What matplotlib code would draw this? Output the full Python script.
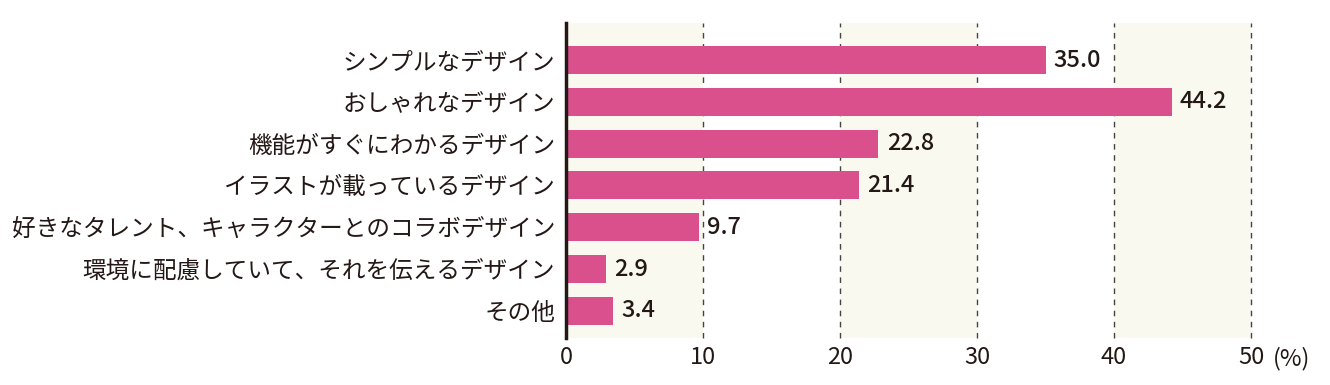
import matplotlib
matplotlib.use("Agg")
import matplotlib.pyplot as plt

categories = ["シンプルなデザイン", "おしゃれなデザイン", "機能がすぐにわかるデザイン",
              "イラストが載っているデザイン", "好きなタレント、キャラクターとのコラボデザイン",
              "環境に配慮していて、それを伝えるデザイン", "その他"]
values = [35.0, 44.2, 22.8, 21.4, 9.7, 2.9, 3.4]
xticks = [0, 10, 20, 30, 40, 50]

plt.rcParams['font.family'] = ['Noto Sans CJK JP', 'DejaVu Sans']

fig = plt.figure(figsize=(13.3, 3.85), dpi=100)
ax = fig.add_axes([0.4256, 0.122, 0.515, 0.818])

pink = "#D9508C"
cream = "#FAF9EF"
dark = "#231815"
for i in range(0, 50, 20):
    ax.axvspan(i, i + 10, color=cream, zorder=0, lw=0)
for t in xticks[1:]:
    ax.axvline(t, color="#444444", lw=1, ls=(0, (4, 4)), zorder=1, clip_on=False)

y = list(range(len(categories)))
ax.barh(y, values, height=0.67, color=pink, zorder=2)
for yi, v in zip(y, values):
    ax.annotate(f"{v:.1f}", (v, yi), xytext=(6, 0), textcoords="offset points",
                va="center", ha="left", fontsize=17, color=dark, fontweight="medium")

ax.set_xlim(0, 50)
ax.set_ylim(6.65, -0.885)
ax.set_yticks(y)
ax.set_yticklabels(categories, fontsize=17, color=dark)
ax.set_xticks(xticks)
ax.set_xticklabels([str(t) for t in xticks], fontsize=17, color=dark)
ax.tick_params(length=0, pad=8, axis="y")
ax.tick_params(length=0, pad=6, axis="x")
for s in ["top", "right", "bottom"]:
    ax.spines[s].set_visible(False)
ax.spines["left"].set_color(dark)
ax.spines["left"].set_linewidth(2.5)
ax.spines["left"].set_zorder(3)
ax.annotate("(%)", (50, 0), xycoords=ax.get_xaxis_transform(), xytext=(16, -6),
            textcoords="offset points", ha="left", va="top", fontsize=17, color=dark)
fig.savefig("out.png", dpi=100)
